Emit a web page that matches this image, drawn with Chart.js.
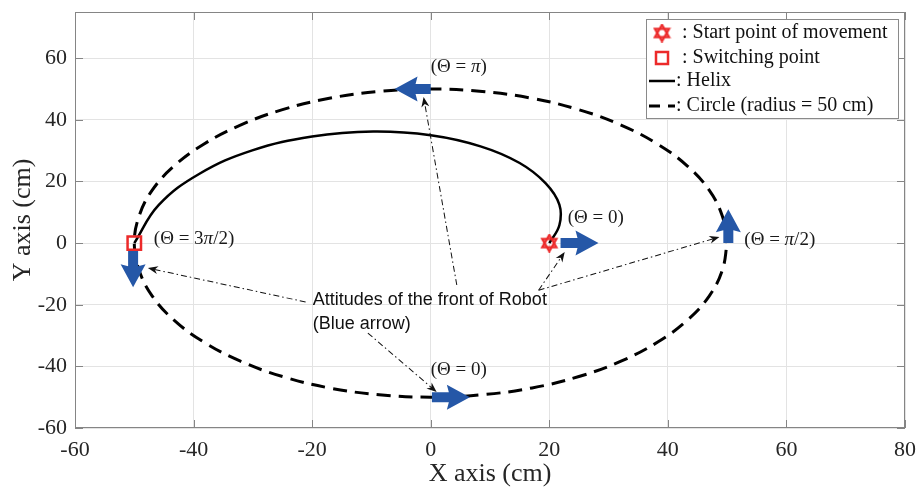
<!DOCTYPE html>
<html>
<head>
<meta charset="utf-8">
<script src="https://cdn.jsdelivr.net/npm/chart.js@4/dist/chart.umd.min.js"></script>
<style>
  html, body { margin: 0; padding: 0; background: #fff; }
  #wrap { width: 917px; height: 491px; }
</style>
</head>
<body>
<div id="wrap"><canvas id="c"></canvas></div>
<script>
// Helix path: from the start point (20, 0) to the switching point (-50, 0)
const helixX = [20.0, 21.7, 21.7, 19.4, 15.0, 8.4, 0.0, -9.7, -20.0, -30.1, -39.0, -45.9, -50.0];
const helixY = [0.0, 5.8, 12.5, 19.4, 26.0, 31.4, 35.0, 36.2, 34.6, 30.1, 22.5, 12.3, 0.0];

// Circle of radius 50 cm around the origin
const circleX = [50.0, 49.2, 47.0, 43.3, 38.3, 32.1, 25.0, 17.1, 8.7, 0.0,
                 -8.7, -17.1, -25.0, -32.1, -38.3, -43.3, -47.0, -49.2, -50.0,
                 -49.2, -47.0, -43.3, -38.3, -32.1, -25.0, -17.1, -8.7, 0.0,
                 8.7, 17.1, 25.0, 32.1, 38.3, 43.3, 47.0, 49.2, 50.0];
const circleY = [0.0, 8.7, 17.1, 25.0, 32.1, 38.3, 43.3, 47.0, 49.2, 50.0,
                 49.2, 47.0, 43.3, 38.3, 32.1, 25.0, 17.1, 8.7, 0.0,
                 -8.7, -17.1, -25.0, -32.1, -38.3, -43.3, -47.0, -49.2, -50.0,
                 -49.2, -47.0, -43.3, -38.3, -32.1, -25.0, -17.1, -8.7, 0.0];

// Start point of movement and switching point
const startPoint = [20, 0];
const switchPoint = [-50, 0];

// Robot front attitude arrows (tail -> head), cm
const arrowTailX = [21.9, 50.2, 0.0, -50.2, 0.2];
const arrowTailY = [0.0, 0.0, 50.0, -2.6, -50.0];
const arrowHeadX = [28.3, 50.2, -6.1, -50.2, 6.6];
const arrowHeadY = [0.0, 11.0, 50.0, -14.3, -50.0];

// Orientation labels
const thetaLabels = ['(Θ = 0)', '(Θ = π/2)', '(Θ = π)', '(Θ = 3π/2)', '(Θ = 0)'];

// Axis ticks
const xTicks = [-60, -40, -20, 0, 20, 40, 60, 80];
const yTicks = [-60, -40, -20, 0, 20, 40, 60];

const SERIF = '"Liberation Serif", "Times New Roman", serif';
const SANS = '"Liberation Sans", Arial, sans-serif';
const BLUE = 'rgb(37, 87, 167)';
const RED = '#ec2a2a';

// Hexagram marker used for the start point
function makeHexagram(size, lw) {
  const cv = document.createElement('canvas');
  cv.width = size; cv.height = size;
  const g = cv.getContext('2d');
  const c = size / 2, r = size / 2 - lw * 0.6;
  g.strokeStyle = RED; g.lineWidth = lw; g.lineJoin = 'miter';
  for (const off of [-Math.PI / 2, Math.PI / 2]) {
    g.beginPath();
    for (let k = 0; k < 3; k++) {
      const a = off + k * 2 * Math.PI / 3;
      const px = c + r * Math.cos(a), py = c + r * Math.sin(a);
      if (k === 0) g.moveTo(px, py); else g.lineTo(px, py);
    }
    g.closePath(); g.stroke();
  }
  return cv;
}
const hexagram = makeHexagram(19, 2.2);

// Annotation layout (data units)
const notes = {
  from: [[-21.1, -19.1], [4.4, -13.6], [18.2, -15.3], [18.2, -15.3], [-10.6, -29.2]],
  to:   [[-47.7, -8.1], [-1.2, 47.4], [22.6, -2.9], [48.7, 2.0], [1.0, -48.3]],
  labelPos: [[23.1, 8.1], [52.9, 1.0], [0.0, 57.1], [-46.7, 1.3], [0.0, -41.2]],
  text: ['Attitudes of the front of Robot', '(Blue arrow)'],
  textPos: [-19.9, -18.4]
};

function blockArrow(ctx, x0, y0, x1, y1) {
  const shaft = 10, headLen = 21, headW = 25;
  const ang = Math.atan2(y1 - y0, x1 - x0);
  const len = Math.hypot(x1 - x0, y1 - y0);
  ctx.save();
  ctx.translate(x0, y0); ctx.rotate(ang);
  ctx.beginPath();
  ctx.moveTo(0, -shaft / 2);
  ctx.lineTo(len - headLen, -shaft / 2);
  ctx.lineTo(len - headLen - 2, -headW / 2);
  ctx.lineTo(len, 0);
  ctx.lineTo(len - headLen - 2, headW / 2);
  ctx.lineTo(len - headLen, shaft / 2);
  ctx.lineTo(0, shaft / 2);
  ctx.closePath();
  ctx.fillStyle = BLUE;
  ctx.fill();
  ctx.restore();
}

function pointerArrow(ctx, x0, y0, x1, y1) {
  const ang = Math.atan2(y1 - y0, x1 - x0);
  const len = Math.hypot(x1 - x0, y1 - y0);
  ctx.save();
  ctx.translate(x0, y0); ctx.rotate(ang);
  ctx.strokeStyle = '#111'; ctx.lineWidth = 1;
  ctx.setLineDash([6, 3, 1.5, 3]);
  ctx.beginPath(); ctx.moveTo(0, 0); ctx.lineTo(len - 6, 0); ctx.stroke();
  ctx.setLineDash([]);
  ctx.fillStyle = '#111';
  ctx.beginPath();
  ctx.moveTo(len, 0);
  ctx.lineTo(len - 10, -4);
  ctx.lineTo(len - 7, 0);
  ctx.lineTo(len - 10, 4);
  ctx.closePath(); ctx.fill();
  ctx.restore();
}

function drawTheta(ctx, str, x, y) {
  const parts = str.split('π');
  let cx = x;
  ctx.textBaseline = 'middle'; ctx.textAlign = 'left';
  ctx.fillStyle = '#1a1a1a';
  parts.forEach((p, i) => {
    ctx.font = '19px ' + SERIF;
    ctx.fillText(p, cx, y);
    cx += ctx.measureText(p).width;
    if (i < parts.length - 1) {
      ctx.font = 'italic 19px ' + SERIF;
      ctx.fillText('π', cx, y);
      cx += ctx.measureText('π').width;
    }
  });
}

const figurePlugin = {
  id: 'figure',
  afterDatasetsDraw(chart) {
    const ctx = chart.ctx, xs = chart.scales.x, ys = chart.scales.y;
    const px = v => xs.getPixelForValue(v), py = v => ys.getPixelForValue(v);
    // attitude arrows
    for (let i = 0; i < arrowTailX.length; i++) {
      blockArrow(ctx, px(arrowTailX[i]), py(arrowTailY[i]), px(arrowHeadX[i]), py(arrowHeadY[i]));
    }
  },
  afterDraw(chart) {
    const ctx = chart.ctx, xs = chart.scales.x, ys = chart.scales.y;
    const a = chart.chartArea;
    const px = v => xs.getPixelForValue(v), py = v => ys.getPixelForValue(v);

    // axes box with inward tick marks
    ctx.save();
    ctx.strokeStyle = '#858585'; ctx.lineWidth = 1;
    ctx.strokeRect(a.left + 0.5, a.top + 0.5, a.right - a.left - 1, a.bottom - a.top - 1);
    ctx.beginPath();
    xTicks.forEach(v => {
      const x = Math.round(px(v)) + 0.5;
      ctx.moveTo(x, a.bottom); ctx.lineTo(x, a.bottom - 8);
      ctx.moveTo(x, a.top); ctx.lineTo(x, a.top + 8);
    });
    yTicks.forEach(v => {
      const y = Math.round(py(v)) + 0.5;
      ctx.moveTo(a.left, y); ctx.lineTo(a.left + 8, y);
      ctx.moveTo(a.right, y); ctx.lineTo(a.right - 8, y);
    });
    ctx.stroke();
    ctx.restore();

    // annotation pointers
    ctx.save();
    for (let i = 0; i < notes.from.length; i++) {
      pointerArrow(ctx, px(notes.from[i][0]), py(notes.from[i][1]), px(notes.to[i][0]), py(notes.to[i][1]));
    }
    ctx.restore();

    // orientation labels
    ctx.save();
    thetaLabels.forEach((t, i) => drawTheta(ctx, t, px(notes.labelPos[i][0]), py(notes.labelPos[i][1])));
    ctx.restore();

    // annotation text
    ctx.save();
    ctx.font = '18px ' + SANS; ctx.fillStyle = '#111';
    ctx.textAlign = 'left'; ctx.textBaseline = 'middle';
    const tx = px(notes.textPos[0]), ty = py(notes.textPos[1]);
    notes.text.forEach((t, i) => ctx.fillText(t, tx, ty + i * 24));
    ctx.restore();

    // legend
    ctx.save();
    const bw = 252, bh = 99;
    const bx = a.right - 7 - bw, by = a.top + 7;
    ctx.fillStyle = '#fff';
    ctx.fillRect(bx, by, bw, bh);
    ctx.strokeStyle = '#8a8a8a'; ctx.lineWidth = 1;
    ctx.strokeRect(bx + 0.5, by + 0.5, bw, bh);
    const rows = [by + 14, by + 39, by + 62, by + 87];
    ctx.drawImage(hexagram, bx + 16 - 9.5, rows[0] - 9.5);
    ctx.strokeStyle = RED; ctx.lineWidth = 2.5;
    ctx.strokeRect(bx + 16 - 6, rows[1] - 6, 12, 12);
    ctx.strokeStyle = '#000'; ctx.lineWidth = 2.5;
    ctx.beginPath(); ctx.moveTo(bx + 3, rows[2]); ctx.lineTo(bx + 29, rows[2]); ctx.stroke();
    ctx.lineWidth = 3;
    ctx.beginPath();
    ctx.moveTo(bx + 3, rows[3]); ctx.lineTo(bx + 14, rows[3]);
    ctx.moveTo(bx + 22, rows[3]); ctx.lineTo(bx + 29, rows[3]);
    ctx.stroke();
    ctx.font = '20px ' + SERIF; ctx.fillStyle = '#111';
    ctx.textAlign = 'left'; ctx.textBaseline = 'middle';
    ctx.fillText(': Start point of movement', bx + 36, rows[0]);
    ctx.fillText(': Switching point', bx + 36, rows[1]);
    ctx.fillText(': Helix', bx + 30, rows[2]);
    ctx.fillText(': Circle (radius = 50 cm)', bx + 30, rows[3]);
    ctx.restore();
  }
};

const toPts = (xs, ys) => xs.map((x, i) => ({ x, y: ys[i] }));

new Chart(document.getElementById('c'), {
  type: 'scatter',
  data: {
    datasets: [
      {
        label: 'Start point of movement',
        data: [{ x: startPoint[0], y: startPoint[1] }],
        pointStyle: hexagram,
        pointRadius: 9,
        order: 0
      },
      {
        label: 'Switching point',
        data: [{ x: switchPoint[0], y: switchPoint[1] }],
        pointStyle: 'rect',
        pointRadius: 9.5,
        borderColor: RED,
        backgroundColor: 'rgba(0,0,0,0)',
        borderWidth: 2.5,
        order: 0
      },
      {
        label: 'Helix',
        data: toPts(helixX, helixY),
        showLine: true,
        borderColor: '#000',
        borderWidth: 2.5,
        tension: 0.4,
        pointRadius: 0,
        order: 1
      },
      {
        label: 'Circle (radius = 50 cm)',
        data: toPts(circleX, circleY),
        showLine: true,
        borderColor: '#000',
        borderWidth: 3,
        borderDash: [14, 8],
        tension: 0.4,
        pointRadius: 0,
        order: 2
      }
    ]
  },
  options: {
    responsive: true,
    maintainAspectRatio: false,
    animation: false,
    events: [],
    layout: { padding: { left: 0, top: 12, right: 11, bottom: 0 } },
    plugins: {
      legend: { display: false },
      tooltip: { enabled: false }
    },
    scales: {
      x: {
        type: 'linear',
        min: -60, max: 80,
        afterBuildTicks: s => { s.ticks = xTicks.map(v => ({ value: v })); },
        afterFit: s => { s.height = 63; s.paddingLeft = 0; s.paddingRight = 0; },
        ticks: { font: { family: SERIF, size: 22 }, color: '#262626', padding: 9, maxRotation: 0 },
        grid: { color: '#e3e3e3', drawTicks: false },
        border: { display: false },
        title: { display: true, text: 'X axis (cm)', font: { family: SERIF, size: 26 }, color: '#262626', padding: { top: 0, bottom: 1 } }
      },
      y: {
        type: 'linear',
        min: -60, max: 75,
        afterBuildTicks: s => { s.ticks = yTicks.map(v => ({ value: v })); },
        afterFit: s => { s.width = 75; s.paddingTop = 0; s.paddingBottom = 0; },
        ticks: { font: { family: SERIF, size: 22 }, color: '#262626', padding: 8 },
        grid: { color: '#e3e3e3', drawTicks: false },
        border: { display: false },
        title: { display: true, text: 'Y axis (cm)', font: { family: SERIF, size: 26 }, color: '#262626', padding: { top: 8, bottom: 0 } }
      }
    }
  },
  plugins: [figurePlugin]
});
</script>
</body>
</html>
